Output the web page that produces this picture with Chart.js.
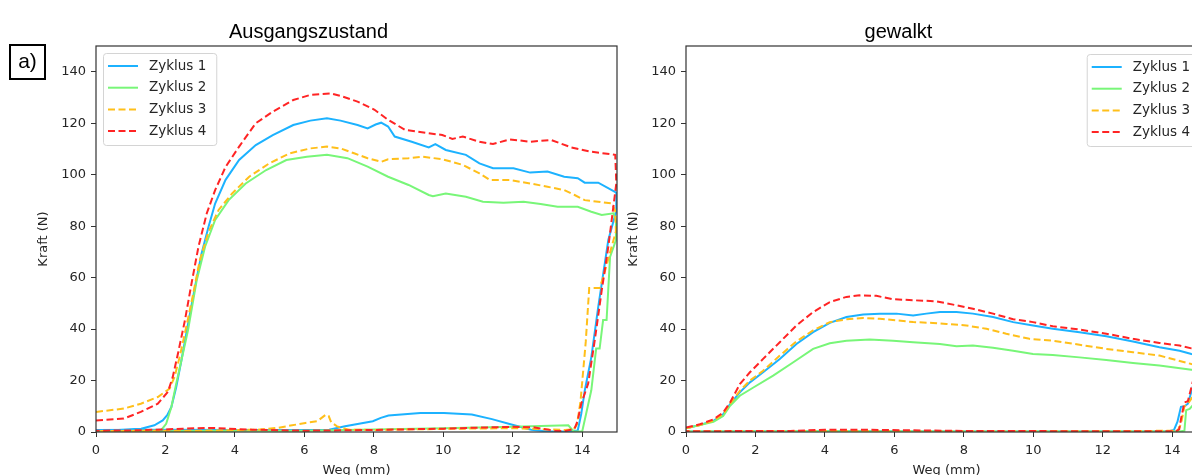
<!DOCTYPE html>
<html>
<head>
<meta charset="utf-8">
<script src="https://cdn.jsdelivr.net/npm/chart.js@4"></script>
<style>
  html, body { margin:0; padding:0; background:#fff; }
  body { width:1192px; height:475px; overflow:hidden; position:relative; }
  canvas { position:absolute; top:0; }
  #lab { position:absolute; left:9px; top:44px; width:37px; height:36px; box-sizing:border-box;
         border:2px solid #000; font:21px "Liberation Sans", Arial, sans-serif; color:#000;
         display:flex; align-items:center; justify-content:center; padding-bottom:2px; }
</style>
</head>
<body>
<canvas id="c1" width="640" height="500" style="left:0px"></canvas>
<canvas id="c2" width="640" height="500" style="left:590px"></canvas>
<div id="lab">a)</div>
<script>
// ---------- data ----------
const titles = ['Ausgangszustand', 'gewalkt'];
const seriesNames = ['Zyklus 1', 'Zyklus 2', 'Zyklus 3', 'Zyklus 4'];
const xTicks = [0, 2, 4, 6, 8, 10, 12, 14];
const yTicks = [0, 20, 40, 60, 80, 100, 120, 140];
const xLabel = 'Weg (mm)';
const yLabel = 'Kraft (N)';

// Ausgangszustand (x in mm, y in N): loading, unloading at the end, return path
const ausZ1 = [[0,0.4],[0.8,0.9],[1.3,1.3],[1.68,2.6],[1.92,4.5],[2.05,6.5],[2.17,9.7],[2.31,17.5],[2.46,27.9],[2.65,42],[2.85,56.4],[3.04,69.4],[3.24,79.8],[3.43,88.8],[3.73,98],[4.12,105.7],[4.6,111.5],[5.09,115.4],[5.68,119.3],[6.17,121],[6.65,121.9],[7.04,121],[7.53,119.3],[7.82,118],[8.05,119.5],[8.21,120.2],[8.41,118.7],[8.6,114.8],[9.09,112.8],[9.58,110.6],[9.77,111.9],[10.07,109.6],[10.65,107.7],[11.04,104.4],[11.43,102.5],[12.02,102.5],[12.5,100.8],[13,101.2],[13.48,99.2],[13.87,98.6],[14.07,96.9],[14.46,96.9],[14.85,94],[14.98,93],
  [14.98,86],[14.75,74.6],[14.46,48.6],[14.26,29],[14.07,16],[13.97,7],[13.87,0.6],
  [13.5,0.3],[13,0.2],[12.53,0.9],[11.96,2.9],[11.4,5],[10.82,6.8],[10.02,7.4],[9.34,7.4],[8.42,6.4],[8.2,5.5],[7.97,4.2],[7.17,2.2],[6.71,0.9],[6,0.8],[4,0.8],[2,0.9],[0,0.8]];
const ausZ2 = [[0,0.3],[1.87,0.6],[2.02,3.2],[2.17,9.7],[2.31,18.8],[2.46,27.9],[2.65,39.6],[2.9,59],[3.14,72],[3.43,82.4],[3.82,90.1],[4.31,96.6],[4.9,101.8],[5.48,105.7],[6.07,107],[6.65,107.7],[7.24,106.4],[7.82,103.1],[8.41,99.2],[9,96],[9.58,92.1],[9.7,91.6],[10.07,92.7],[10.65,91.4],[11.14,89.5],[11.73,89.1],[12.31,89.5],[12.8,88.6],[13.29,87.5],[13.87,87.5],[14.26,85.6],[14.56,84.3],[14.9,85],[14.97,82],
  [14.97,74.6],[14.8,68],[14.7,43.5],[14.6,43.5],[14.5,32.4],[14.4,32.4],[14.26,16.2],[14,0.3],
  [13.75,0.2],[13.6,2.6],[12,2],[10,1.5],[8,1],[6,0.5],[4,0.5],[2,0.3],[0,0.3]];
const ausZ3 = [[0,7.8],[0.8,9.1],[1.29,11],[1.78,13.6],[2.12,16.9],[2.26,21.4],[2.41,29.2],[2.6,40.9],[2.8,53.8],[2.99,66.8],[3.24,77.8],[3.53,86.3],[3.92,92.7],[4.41,99.2],[4.99,104.4],[5.58,108.3],[6.17,110.2],[6.65,110.9],[7.04,110.2],[7.43,108.3],[7.82,106.4],[8.21,105],[8.41,106],[9,106.4],[9.39,107],[9.97,106],[10.56,103.8],[11.04,100.5],[11.34,97.9],[11.92,97.9],[12.5,96.6],[13,95.3],[13.48,94],[13.78,92.1],[14.07,90.1],[14.46,89.5],[14.85,88.8],[14.95,86],
  [14.97,78],[14.6,60],[14.5,56],[14.2,56],[14.1,35],[13.95,12],[13.85,3],[13.75,1],
  [13.5,0.8],[12,1.5],[10,1.2],[8,0.8],[7.28,0.9],[6.94,2.2],[6.77,3.8],[6.7,6.2],[6.62,6.75],[6.37,4.2],[6.03,3.5],[5.6,2.5],[5.23,1.6],[4.66,0.9],[3,0.5],[0,0.4]];
const ausZ4 = [[0,4.5],[0.8,5.2],[1.29,7.8],[1.78,11],[2.07,15.6],[2.21,21.4],[2.36,30.5],[2.56,43.4],[2.75,57.7],[2.95,72],[3.19,85],[3.43,94],[3.73,103],[4.12,110.9],[4.6,120],[5.09,124.5],[5.68,129],[6.17,131],[6.75,131.6],[7.04,130.6],[7.53,128.4],[8.02,125.2],[8.41,121.3],[8.9,117.4],[9.48,116.3],[9.97,115.4],[10.26,113.9],[10.56,114.8],[11.04,112.8],[11.43,111.9],[11.92,113.7],[12.5,112.8],[13.1,113.5],[13.68,110.6],[14.26,108.9],[14.95,107.7],
  [14.98,96.6],[14.75,72],[14.56,55],[14.36,35.7],[14.17,18.8],[13.97,11],[13.87,4.5],[13.78,1.3],
  [13.5,0.3],[13.2,0.5],[12.6,1.8],[12,2],[11,1.7],[10,1.3],[8,0.8],[6,0.5],[4.5,0.9],[3.3,1.6],[2.5,1.3],[2,1],[1,0.6],[0,0.5]];

// gewalkt
const gewZ1 = [[0,1.4],[0.4,2.7],[0.79,4.3],[1.07,6.9],[1.27,10.8],[1.55,15.4],[1.84,19.3],[2.22,23.2],[2.7,28.4],[3.18,34.2],[3.66,38.8],[4.14,42.4],[4.62,44.7],[5.1,45.7],[5.58,46],[6.06,46],[6.54,45.3],[6.92,46],[7.31,46.6],[7.79,46.6],[8.26,46],[8.84,44.7],[9.42,42.7],[9.99,41.4],[10.56,40.1],[11.33,38.8],[12.1,37.2],[12.87,35.2],[13.63,32.9],[14.21,31.6],[14.55,30.3],[15,29.3],
  [15,27],[14.6,18],[14.45,11],[14.35,10],[14.25,9.8],[14.15,4],[14.05,0.8],[13.9,0.3],
  [12,0.2],[8,0.2],[4,0.3],[0,0.2]];
const gewZ2 = [[0,1.4],[0.79,4],[1.07,6.2],[1.27,10.2],[1.55,14.1],[1.94,17.3],[2.51,21.9],[3.09,27.1],[3.66,32.3],[4.14,34.5],[4.62,35.5],[5.29,35.9],[5.96,35.5],[6.54,34.9],[7.31,34.2],[7.79,33.3],[8.26,33.6],[8.84,32.7],[9.42,31.6],[9.99,30.3],[10.56,29.9],[11.33,29],[12.1,28],[12.87,26.8],[13.63,25.8],[14.55,24.2],[15,23.5],
  [15,22],[14.6,10.5],[14.5,9],[14.4,8.5],[14.35,0.5],[14.2,0.2],
  [12,0.2],[8,0.2],[4,0.3],[0,0.2]];
const gewZ3 = [[0,1.4],[0.4,2.7],[0.79,4.4],[1.07,7],[1.27,11],[1.55,16],[1.84,20],[2.22,23.8],[2.7,29.7],[3.18,35.2],[3.66,39.5],[4.14,42.7],[4.62,43.8],[5.1,44.3],[5.58,44],[6.06,43.4],[6.54,42.7],[7.11,42.4],[7.5,42],[8.07,41.4],[8.65,40.1],[9.22,38.2],[9.89,36.2],[10.56,35.5],[11.33,33.9],[12.1,32.3],[12.87,31],[13.63,29.7],[14.55,26.4],[15,25.5],
  [15,25],[14.6,14],[14.45,11],[14.35,10],[14.25,3],[14.15,0.5],
  [12,0.3],[8,0.3],[4,0.4],[0,0.3]];
const gewZ4 = [[0,1.7],[0.4,3],[0.79,4.9],[1.07,7.6],[1.27,11.5],[1.55,18.6],[1.84,23.2],[2.22,28.4],[2.7,34.9],[3.18,41.4],[3.66,46.6],[4.14,50.5],[4.62,52.5],[5,53.1],[5.48,52.9],[5.96,51.6],[6.54,51.2],[7.21,50.8],[7.69,49.5],[8.26,47.9],[8.84,46],[9.42,43.8],[9.99,42.7],[10.56,41.1],[11.33,39.8],[12.1,38.2],[12.87,36.2],[13.63,34.6],[14.21,33.6],[14.55,32.5],[15,31.5],
  [15,30],[14.6,20],[14.45,12],[14.35,11.5],[14.25,5],[14.2,1],[14.1,0.3],
  [12,0.3],[8,0.4],[5,0.9],[4,0.9],[3,0.4],[0,0.3]];

// ---------- styles ----------
const colors = ['#1CB2FF', '#78F678', '#FFBF1A', '#FF2424'];
const dashes = [[], [], [7, 3.5], [7, 3.5]];
const FONT = '"DejaVu Sans", sans-serif';

const inLegend = {
  id: 'inLegend',
  afterDatasetsDraw(chart, args, opts) {
    const { ctx, chartArea: a } = chart;
    ctx.save();
    ctx.strokeStyle = '#333';
    ctx.lineWidth = 1.2;
    ctx.setLineDash([]);
    ctx.strokeRect(a.left, a.top, a.right - a.left, a.bottom - a.top);
    ctx.font = '13.5px ' + FONT;
    const tw = Math.max(...seriesNames.map(n => ctx.measureText(n).width));
    const w = 46 + tw + 10, h = 92;
    const x = opts.side === 'right' ? a.right - 7 - w : a.left + 7;
    const y = a.top + opts.dy;
    ctx.beginPath();
    ctx.roundRect(x + 0.5, y + 0.5, w, h, 3);
    ctx.fillStyle = 'rgba(255,255,255,0.85)';
    ctx.fill();
    ctx.strokeStyle = '#d4d4d4';
    ctx.lineWidth = 1;
    ctx.stroke();
    seriesNames.forEach((n, i) => {
      const yy = y + 13 + i * 21.7;
      ctx.beginPath();
      ctx.setLineDash(dashes[i]);
      ctx.strokeStyle = colors[i];
      ctx.lineWidth = 2;
      ctx.moveTo(x + 5, yy);
      ctx.lineTo(x + 35, yy);
      ctx.stroke();
      ctx.setLineDash([]);
      ctx.fillStyle = '#262626';
      ctx.textBaseline = 'middle';
      ctx.textAlign = 'left';
      ctx.fillText(n, x + 46, yy);
    });
    ctx.restore();
  }
};

function makeChart(id, title, series, side, dy) {
  const datasets = series.map((s, i) => ({
    label: seriesNames[i],
    data: s.map(p => ({ x: p[0], y: p[1] })),
    showLine: true,
    borderColor: colors[i],
    backgroundColor: colors[i],
    borderWidth: 2,
    borderDash: dashes[i],
    pointRadius: 0,
    tension: 0,
    order: 4 - i
  }));
  const axisCommon = {
    type: 'linear',
    border: { display: false },
    grid: { drawOnChartArea: false, drawTicks: true, tickLength: 5, color: '#333', tickWidth: 1 },
    ticks: { font: { family: FONT, size: 13 }, color: '#262626', padding: 6, maxRotation: 0, autoSkip: false }
  };
  return new Chart(document.getElementById(id), {
    type: 'scatter',
    data: { datasets },
    options: {
      responsive: false,
      animation: false,
      devicePixelRatio: 1,
      layout: { padding: { left: 0, right: 23, top: 0, bottom: 0 } },
      plugins: {
        legend: { display: false },
        tooltip: { enabled: false },
        title: { display: true, text: title, color: '#000',
                 font: { family: '"Liberation Sans", Arial, sans-serif', size: 20, weight: 'normal' },
                 padding: { top: 20, bottom: 2 } },
        inLegend: { side, dy }
      },
      scales: {
        x: Object.assign({}, axisCommon, {
          min: 0, max: 15,
          afterBuildTicks: s => { s.ticks = xTicks.map(v => ({ value: v })); },
          afterFit: s => { s.height = 68; },
          title: { display: true, text: xLabel, color: '#262626', font: { family: FONT, size: 13 }, padding: { top: 0, bottom: 22 } }
        }),
        y: Object.assign({}, axisCommon, {
          min: 0, max: 150,
          afterBuildTicks: s => { s.ticks = yTicks.map(v => ({ value: v })); },
          afterFit: s => { s.width = 96; },
          ticks: Object.assign({}, axisCommon.ticks, { padding: 5 }),
          title: { display: true, text: yLabel, color: '#262626', font: { family: FONT, size: 13 }, padding: { top: 36, bottom: 0 } }
        })
      }
    },
    plugins: [inLegend]
  });
}

makeChart('c1', titles[0], [ausZ1, ausZ2, ausZ3, ausZ4], 'left', 7);
makeChart('c2', titles[1], [gewZ1, gewZ2, gewZ3, gewZ4], 'right', 8);
</script>
</body>
</html>
